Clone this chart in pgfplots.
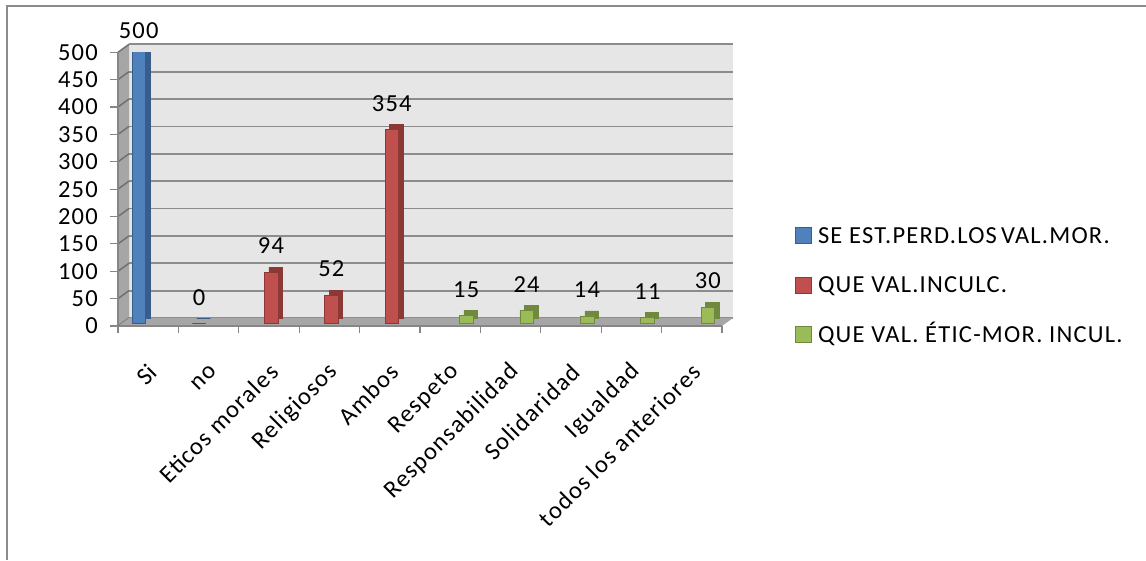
\documentclass[border=0pt]{standalone}
\usepackage{fontspec}
\setmainfont{Carlito}[LetterSpace=5]
\usepackage{pgfplots}
\pgfplotsset{compat=1.18}
\definecolor{bluef}{HTML}{4F81BD}
\definecolor{blues}{HTML}{385D8A}
\definecolor{redf}{HTML}{C0504D}
\definecolor{reds}{HTML}{8C3836}
\definecolor{greenf}{HTML}{9BBB59}
\definecolor{greens}{HTML}{71893F}
\definecolor{wallc}{HTML}{E6E6E6}
\definecolor{sidec}{HTML}{A6A6A6}
\definecolor{gridc}{HTML}{8C8C8C}
\definecolor{axc}{HTML}{868686}
\newcommand\cf{\fontsize{24.5pt}{29pt}\selectfont}
\pgfplotsset{sqleg/.style={legend image code/.code={\draw[##1, yshift=-2.5pt, line width=0.8pt] (0pt,-8pt) rectangle (16pt,8pt);}}}
\begin{document}
\begin{tikzpicture}
\draw[gridc, line width=1.5pt] (7pt,0) -- (7pt,554pt) -- (1146pt,554pt);
\begin{axis}[
  at={(118pt,234pt)}, anchor=south west,
  scale only axis, width=604pt, height=273.7pt,
  xmin=-0.5, xmax=9.5, ymin=0, ymax=500,
  set layers,
  axis lines=left, axis line style={-, draw=axc, line width=1.2pt},
  ytick={0,50,...,500},
  xtick={0,...,9},
  xticklabels={Si, no, Eticos morales, Religiosos, Ambos, Respeto, Responsabilidad, Solidaridad, Igualdad, todos los anteriores},
  minor xtick={-0.5,0.5,...,9.5},
  tick align=outside,
  major tick length=8pt, minor tick length=7pt,
  major x tick style={draw=none},
  minor x tick style={draw=axc, line width=1.2pt},
  ytick style={draw=axc, line width=1.2pt},
  /pgf/number format/assume math mode=true,
  yticklabel style={font=\cf, inner sep=0pt, xshift=-12pt},
  xticklabel style={font=\cf, inner sep=0pt, xshift=5pt, rotate=45, anchor=east},
  xticklabel shift=34pt,
  ybar, bar width=13.5pt,
  every node near coord/.append style={font=\cf, anchor=center, text=black},
  nodes near coords style={yshift=26pt},
  legend style={draw=none, fill=none, at={(axis description cs:1.1209,0.1498)}, anchor=west,
    font=\cf, inner sep=0pt, row sep=30.5pt,
    nodes={inner sep=0pt, text height=17pt, text depth=2pt},
    /tikz/every odd column/.append style={column sep=6pt}},
  legend cell align=left,
]
\begin{pgfonlayer}{axis background}
\fill[wallc] ([shift={(11pt,8pt)}]axis cs:-0.5,0) rectangle ([shift={(11pt,8pt)}]axis cs:9.5,500);
\pgfplotsinvokeforeach{0,50,...,500}{
  \draw[gridc, line width=1.8pt] ([shift={(11pt,8pt)}]axis cs:-0.5,#1) -- ([shift={(11pt,8pt)}]axis cs:9.5,#1);
}
\fill[sidec] (axis cs:-0.5,0) -- (axis cs:-0.5,500) -- ([shift={(11pt,8pt)}]axis cs:-0.5,500) -- ([shift={(11pt,8pt)}]axis cs:-0.5,0) -- cycle;
\pgfplotsinvokeforeach{0,50,...,500}{
  \draw[gridc!80!black, line width=1.5pt] (axis cs:-0.5,#1) -- ([shift={(11pt,8pt)}]axis cs:-0.5,#1);
}
\fill[sidec] (axis cs:-0.5,0) -- (axis cs:9.5,0) -- ([shift={(11pt,8pt)}]axis cs:9.5,0) -- ([shift={(11pt,8pt)}]axis cs:-0.5,0) -- cycle;
\end{pgfonlayer}
% shadows (depth faces)
\addplot[forget plot, fill=blues, draw=blues, line width=0.5pt, bar shift=-9.5pt, xshift=4.5pt, yshift=7.5pt] coordinates {(0,500) (1,0)};
\addplot[forget plot, fill=reds, draw=reds, line width=0.5pt, bar shift=2pt, xshift=4.5pt, yshift=7.5pt] coordinates {(2,94) (3,52) (4,354)};
\addplot[forget plot, fill=greens, draw=greens, line width=0.5pt, bar shift=16pt, xshift=4.5pt, yshift=7.5pt] coordinates {(5,15) (6,24) (7,14) (8,11) (9,30)};
% front faces
\addplot[forget plot, fill=bluef, draw=blues, line width=0.5pt, bar shift=-9.5pt, yshift=2.5pt, nodes near coords]
  coordinates {(1,0)};
\addplot[fill=bluef, draw=blues, line width=0.5pt, bar shift=-9.5pt, yshift=2.5pt, nodes near coords, nodes near coords style={yshift=-7pt}, sqleg]
  coordinates {(0,500)};
\addlegendentry{SE EST.PERD.LOS\,VAL.MOR.}
\addplot[fill=redf, draw=reds, line width=0.5pt, bar shift=2pt, yshift=2.5pt, nodes near coords, sqleg]
  coordinates {(2,94) (3,52) (4,354)};
\addlegendentry{QUE VAL.INCULC.}
\addplot[fill=greenf, draw=greens, line width=0.5pt, bar shift=16pt, yshift=2.5pt, nodes near coords, sqleg]
  coordinates {(5,15) (6,24) (7,14) (8,11) (9,30)};
\addlegendentry{QUE VAL. ÉTIC-MOR. INCUL.}
\end{axis}
\pgfresetboundingbox
\useasboundingbox (0,0) rectangle (1146pt,560pt);
\end{tikzpicture}
\end{document}
